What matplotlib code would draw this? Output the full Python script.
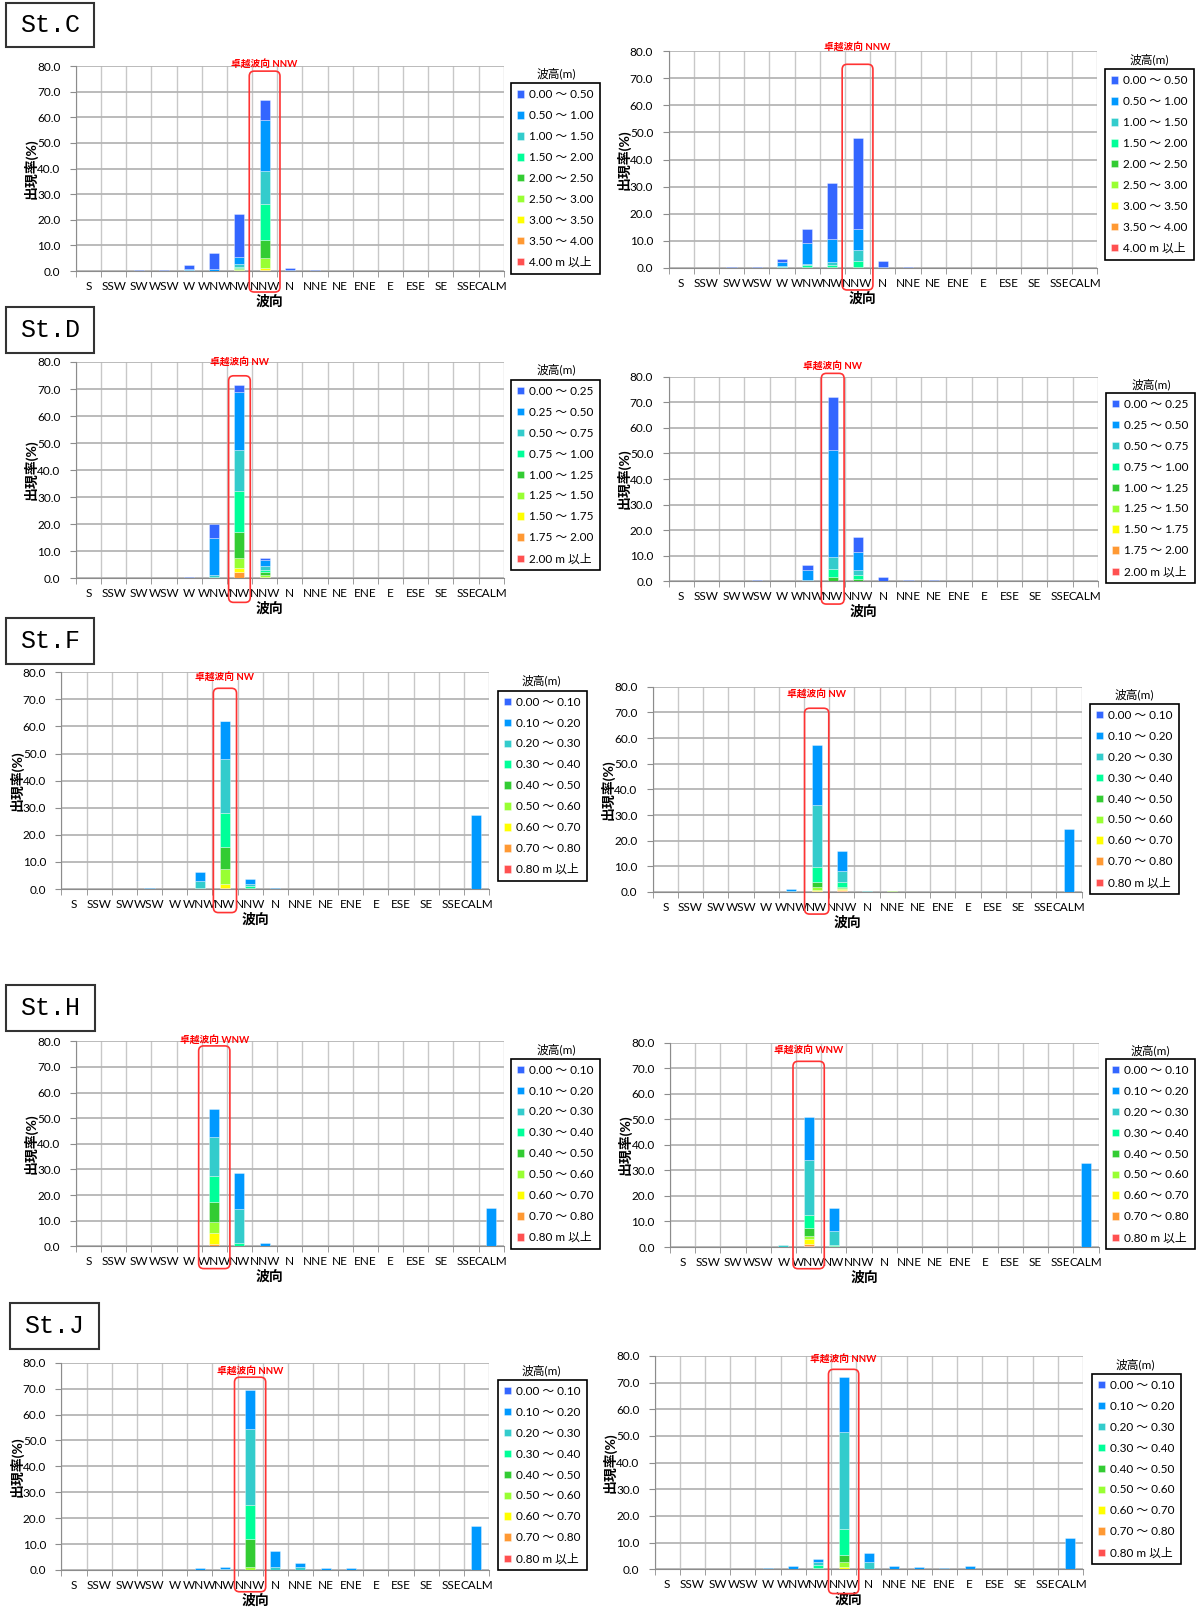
import matplotlib.pyplot as plt
import numpy as np
from matplotlib.patches import FancyBboxPatch, Rectangle
from matplotlib.transforms import IdentityTransform
from matplotlib.ticker import FormatStrFormatter

plt.rcParams['font.family'] = ['Lato', 'Noto Sans CJK JP', 'DejaVu Sans']

directions = ['S', 'SSW', 'SW', 'WSW', 'W', 'WNW', 'NW', 'NNW', 'N',
              'NNE', 'NE', 'ENE', 'E', 'ESE', 'SE', 'SSE', 'CALM']
class_colors = ['#3366ff', '#0099ff', '#33cccc', '#00ff99', '#33cc33',
                '#99ff33', '#ffff00', '#ff9933', '#ff5050']

bounds_c = ['0.00', '0.50', '1.00', '1.50', '2.00', '2.50', '3.00', '3.50', '4.00']
bounds_d = ['0.00', '0.25', '0.50', '0.75', '1.00', '1.25', '1.50', '1.75', '2.00']
bounds_fhj = ['0.00', '0.10', '0.20', '0.30', '0.40', '0.50', '0.60', '0.70', '0.80']

# rows = wave height class, columns = direction (S ... CALM), values in %
#          S  SSW  SW  WSW   W   WNW   NW   NNW    N  NNE  NE ENE  E ESE SE SSE CALM
c_left = [
    [0, 0, 0.3, 0.4, 1.8, 6.2, 16.6, 7.8, 0.8, 0.2, 0, 0, 0, 0, 0, 0, 0],
    [0, 0, 0, 0, 0.5, 0.7, 2.7, 20.0, 0.4, 0, 0, 0, 0, 0, 0, 0, 0],
    [0, 0, 0, 0, 0.2, 0.1, 1.3, 12.8, 0, 0, 0, 0, 0, 0, 0, 0, 0],
    [0, 0, 0, 0, 0, 0, 0.5, 14.0, 0, 0, 0, 0, 0, 0, 0, 0, 0],
    [0, 0, 0, 0, 0, 0, 0.4, 7.0, 0, 0, 0, 0, 0, 0, 0, 0, 0],
    [0, 0, 0, 0, 0, 0, 0.3, 4.0, 0, 0, 0, 0, 0, 0, 0, 0, 0],
    [0, 0, 0, 0, 0, 0, 0.3, 0.9, 0, 0, 0, 0, 0, 0, 0, 0, 0],
    [0, 0, 0, 0, 0, 0, 0.1, 0.2, 0, 0, 0, 0, 0, 0, 0, 0, 0],
    [0, 0, 0, 0, 0, 0, 0, 0.1, 0, 0, 0, 0, 0, 0, 0, 0, 0],
]
c_right = [
    [0, 0, 0.3, 0.3, 1.2, 5.2, 20.6, 33.4, 2.2, 0.3, 0, 0, 0, 0, 0, 0, 0],
    [0, 0, 0, 0, 1.6, 7.6, 8.5, 7.8, 0.5, 0, 0, 0, 0, 0, 0, 0, 0],
    [0, 0, 0, 0, 0.4, 0.6, 1.3, 4.0, 0, 0, 0, 0, 0, 0, 0, 0, 0],
    [0, 0, 0, 0, 0.2, 0.6, 0.7, 2.2, 0, 0, 0, 0, 0, 0, 0, 0, 0],
    [0, 0, 0, 0, 0, 0.3, 0.2, 0.4, 0, 0, 0, 0, 0, 0, 0, 0, 0],
    [0, 0, 0, 0, 0, 0.1, 0.1, 0.1, 0, 0, 0, 0, 0, 0, 0, 0, 0],
    [0] * 17,
    [0] * 17,
    [0] * 17,
]
d_left = [
    [0, 0, 0, 0, 0.5, 5.4, 2.8, 0.6, 0, 0, 0, 0, 0, 0, 0, 0, 0],
    [0, 0, 0, 0, 0.1, 13.6, 21.5, 2.3, 0, 0, 0, 0, 0, 0, 0, 0, 0],
    [0, 0, 0, 0, 0, 0.8, 15.0, 1.5, 0, 0, 0, 0, 0, 0, 0, 0, 0],
    [0, 0, 0, 0, 0, 0.4, 15.2, 0.9, 0, 0, 0, 0, 0, 0, 0, 0, 0],
    [0, 0, 0, 0, 0, 0, 9.5, 1.0, 0, 0, 0, 0, 0, 0, 0, 0, 0],
    [0, 0, 0, 0, 0, 0, 3.7, 0.8, 0, 0, 0, 0, 0, 0, 0, 0, 0],
    [0, 0, 0, 0, 0, 0, 1.6, 0.2, 0, 0, 0, 0, 0, 0, 0, 0, 0],
    [0, 0, 0, 0, 0, 0, 2.2, 0.2, 0, 0, 0, 0, 0, 0, 0, 0, 0],
    [0, 0, 0, 0, 0, 0, 0.1, 0, 0, 0, 0, 0, 0, 0, 0, 0, 0],
]
d_right = [
    [0, 0, 0, 0.4, 0, 2.1, 20.6, 6.2, 1.5, 0.5, 0.4, 0, 0, 0, 0, 0, 0],
    [0, 0, 0, 0, 0, 3.7, 41.8, 6.9, 0.2, 0, 0, 0, 0, 0, 0, 0, 0],
    [0, 0, 0, 0, 0, 0.5, 4.8, 1.9, 0, 0, 0, 0, 0, 0, 0, 0, 0],
    [0, 0, 0, 0, 0, 0.2, 3.1, 1.7, 0, 0, 0, 0, 0, 0, 0, 0, 0],
    [0, 0, 0, 0, 0, 0, 1.4, 0.5, 0, 0, 0, 0, 0, 0, 0, 0, 0],
    [0, 0, 0, 0, 0, 0, 0.2, 0.2, 0, 0, 0, 0, 0, 0, 0, 0, 0],
    [0, 0, 0, 0, 0, 0, 0, 0.1, 0, 0, 0, 0, 0, 0, 0, 0, 0],
    [0] * 17,
    [0] * 17,
]
f_left = [
    [0, 0, 0, 0, 0, 0, 0.2, 0, 0, 0, 0, 0, 0, 0, 0, 0, 0],
    [0, 0, 0, 0.3, 0.1, 3.4, 14.0, 1.6, 0.3, 0, 0.1, 0, 0, 0, 0, 0, 27.2],
    [0, 0, 0, 0, 0, 2.6, 19.9, 1.0, 0.1, 0, 0, 0, 0, 0, 0, 0, 0],
    [0, 0, 0, 0, 0, 0.3, 12.6, 0.6, 0, 0, 0, 0, 0, 0, 0, 0, 0],
    [0, 0, 0, 0, 0, 0.1, 8.2, 0.3, 0, 0, 0, 0, 0, 0, 0, 0, 0],
    [0, 0, 0, 0, 0, 0, 5.3, 0.1, 0, 0, 0, 0, 0, 0, 0, 0, 0],
    [0, 0, 0, 0, 0, 0, 1.8, 0, 0, 0, 0, 0, 0, 0, 0, 0, 0],
    [0, 0, 0, 0, 0, 0, 0.2, 0, 0, 0, 0, 0, 0, 0, 0, 0, 0],
    [0] * 17,
]
f_right = [
    [0] * 17,
    [0, 0, 0, 0, 0.1, 1.0, 23.6, 7.6, 0, 0, 0.1, 0, 0, 0, 0, 0, 24.7],
    [0, 0, 0, 0, 0, 0.2, 24.2, 4.3, 0.4, 0, 0, 0, 0, 0, 0, 0, 0],
    [0, 0, 0, 0, 0, 0, 5.7, 1.8, 0, 0, 0, 0, 0, 0, 0, 0, 0],
    [0, 0, 0, 0, 0, 0, 2.0, 0.6, 0, 0, 0, 0, 0, 0, 0, 0, 0],
    [0, 0, 0, 0, 0, 0, 1.0, 0.5, 0, 0.3, 0, 0, 0, 0, 0, 0, 0],
    [0, 0, 0, 0, 0, 0, 0.6, 0.4, 0, 0, 0, 0, 0, 0, 0, 0, 0],
    [0, 0, 0, 0, 0, 0, 0.3, 0.4, 0, 0, 0, 0, 0, 0, 0, 0, 0],
    [0, 0, 0, 0, 0, 0, 0, 0.2, 0, 0, 0, 0, 0, 0, 0, 0, 0],
]
h_left = [
    [0] * 17,
    [0, 0, 0, 0.3, 0.3, 10.7, 14.1, 1.0, 0, 0.3, 0, 0, 0, 0, 0, 0, 15.0],
    [0, 0, 0, 0, 0, 15.4, 13.3, 0.2, 0, 0, 0, 0, 0, 0, 0, 0, 0],
    [0, 0, 0, 0, 0, 9.9, 1.3, 0, 0, 0, 0, 0, 0, 0, 0, 0, 0],
    [0, 0, 0, 0, 0, 7.8, 0, 0, 0, 0, 0, 0, 0, 0, 0, 0, 0],
    [0, 0, 0, 0, 0, 4.5, 0, 0, 0, 0, 0, 0, 0, 0, 0, 0, 0],
    [0, 0, 0, 0, 0, 4.2, 0, 0, 0, 0, 0, 0, 0, 0, 0, 0, 0],
    [0, 0, 0, 0, 0, 0.9, 0, 0, 0, 0, 0, 0, 0, 0, 0, 0, 0],
    [0] * 17,
]
h_right = [
    [0] * 17,
    [0, 0, 0, 0, 0, 16.9, 8.8, 0, 0, 0, 0, 0, 0, 0, 0, 0, 33.0],
    [0, 0, 0, 0, 0.6, 21.4, 5.7, 0, 0, 0, 0, 0, 0, 0, 0, 0, 0],
    [0, 0, 0, 0, 0, 5.3, 0.3, 0, 0, 0, 0, 0, 0, 0, 0, 0, 0],
    [0, 0, 0, 0, 0, 3.1, 0.3, 0, 0, 0, 0, 0, 0, 0, 0, 0, 0],
    [0, 0, 0, 0, 0, 1.3, 0, 0, 0, 0, 0, 0, 0, 0, 0, 0, 0],
    [0, 0, 0, 0, 0, 1.8, 0, 0, 0, 0, 0, 0, 0, 0, 0, 0, 0],
    [0, 0, 0, 0, 0, 0.8, 0, 0, 0, 0, 0, 0, 0, 0, 0, 0, 0],
    [0, 0, 0, 0, 0, 0.4, 0, 0, 0, 0, 0, 0, 0, 0, 0, 0, 0],
]
j_left = [
    [0] * 17,
    [0, 0, 0, 0, 0, 0.6, 0.9, 15.1, 6.1, 1.4, 0.6, 0.6, 0, 0, 0, 0, 16.8],
    [0, 0, 0, 0, 0, 0, 0.3, 29.3, 1.2, 1.3, 0, 0, 0, 0, 0, 0, 0],
    [0, 0, 0, 0, 0, 0, 0, 13.1, 0, 0, 0, 0, 0, 0, 0, 0, 0],
    [0, 0, 0, 0, 0, 0, 0, 10.8, 0, 0, 0, 0, 0, 0, 0, 0, 0],
    [0, 0, 0, 0, 0, 0, 0, 1.2, 0, 0, 0, 0, 0, 0, 0, 0, 0],
    [0] * 17,
    [0] * 17,
    [0] * 17,
]
j_right = [
    [0] * 17,
    [0, 0, 0, 0, 0.4, 1.3, 0.9, 20.9, 3.5, 1.3, 0.8, 0.5, 0.8, 0, 0, 0, 11.6],
    [0, 0, 0, 0, 0, 0, 1.3, 36.4, 2.7, 0, 0, 0, 0.3, 0, 0, 0, 0],
    [0, 0, 0, 0, 0, 0, 1.2, 9.6, 0, 0, 0, 0, 0, 0, 0, 0, 0],
    [0, 0, 0, 0, 0, 0, 0.4, 2.7, 0, 0, 0, 0, 0, 0, 0, 0, 0],
    [0, 0, 0, 0, 0, 0, 0, 1.7, 0, 0, 0, 0, 0, 0, 0, 0, 0],
    [0, 0, 0, 0, 0, 0, 0, 1.0, 0, 0, 0, 0, 0, 0, 0, 0, 0],
    [0] * 17,
    [0] * 17,
]

W, H = 1200, 1609
fig = plt.figure(figsize=(W / 100, H / 100), dpi=100)


def fig_rect(x0, y0, x1, y1):
    # pixel box (top-left origin) -> figure fraction [left, bottom, width, height]
    return [x0 / W, 1 - y1 / H, (x1 - x0) / W, (y1 - y0) / H]


def draw_panel(values, bounds, note, axes_px, legend_xy, title_px,
               dom, half, box_top, box_bot, note_y):
    ax = fig.add_axes(fig_rect(*axes_px))
    wpx = axes_px[2] - axes_px[0]
    hpx = axes_px[3] - axes_px[1]
    x = np.arange(len(directions))
    base = np.zeros(len(directions))
    handles = [None] * len(values)
    # highest wave class at the bottom, lowest class on top
    for k in reversed(range(len(values))):
        h = np.array(values[k], dtype=float)
        handles[k] = ax.bar(x, np.where(h > 0, h, np.nan), 0.4, bottom=base,
                            color=class_colors[k], edgecolor=(1, 1, 1, 0.6),
                            linewidth=0.4, zorder=3)
        base += h
    labels = [f'{a} ～ {b}' for a, b in zip(bounds[:-1], bounds[1:])]
    labels.append(f'{bounds[-1]} m 以上')

    ax.set_xlim(-0.5, len(directions) - 0.5)
    ax.set_ylim(0, 80)
    ax.set_yticks(np.arange(0, 81, 10))
    ax.yaxis.set_major_formatter(FormatStrFormatter('%.1f'))
    ax.set_xticks(x)
    ax.set_xticklabels(directions, fontsize=8.5)
    ax.set_xticks(np.arange(-0.5, len(directions)), minor=True)
    ax.tick_params(axis='x', which='major', length=0, pad=7)
    ax.tick_params(axis='x', which='minor', length=4, color='#8c8c8c')
    ax.tick_params(axis='y', length=4, color='#8c8c8c', labelsize=8.5, pad=7)
    ax.grid(axis='y', color='#b5b5b5', linewidth=1.3)
    ax.grid(axis='x', which='minor', color='#c8c8c8', linewidth=1.0)
    ax.set_axisbelow(True)
    for s in ('top', 'right'):
        ax.spines[s].set_visible(False)
    for s in ('left', 'bottom'):
        ax.spines[s].set_color('#8c8c8c')

    ax.set_ylabel('出現率(%)', fontsize=10, fontweight='bold')
    ax.yaxis.set_label_coords(-38 / wpx, 0.5)
    ax.set_xlabel('波向', fontsize=10, fontweight='bold')
    ax.xaxis.set_label_coords(0.5 - 20 / wpx, -23 / hpx)

    lx, ly = legend_xy
    leg = ax.legend(handles, labels, loc='upper left',
                    bbox_to_anchor=(lx / W, 1 - ly / H), bbox_transform=fig.transFigure,
                    borderaxespad=0, frameon=True, fancybox=False,
                    edgecolor='black', framealpha=1, fontsize=8.5,
                    handlelength=0.6, handleheight=0.6, handletextpad=0.45,
                    labelspacing=0.84, borderpad=0.5)
    leg.get_frame().set_linewidth(1.2)
    fig.text(title_px[0] / W, 1 - title_px[1] / H, '波高(m)', ha='center', va='center',
             fontsize=8.5)

    # red frame around the dominant direction
    (px0, py0), (px1, py1) = ax.transData.transform([(dom - half, box_bot),
                                                     (dom + half, box_top)])
    fig.add_artist(FancyBboxPatch((px0, py0), px1 - px0, py1 - py0,
                                  boxstyle='round,pad=0,rounding_size=5',
                                  transform=IdentityTransform(), fill=False,
                                  edgecolor='#ff3333', linewidth=1.2))
    ax.text(dom, note_y, note, color='red', fontsize=7, fontweight='bold',
            ha='center', va='center', clip_on=False)


def station_label(name, x0, y0, x1, y1):
    fig.add_artist(Rectangle((x0 / W, 1 - y1 / H), (x1 - x0) / W, (y1 - y0) / H,
                             transform=fig.transFigure, fill=False,
                             edgecolor='#333333', linewidth=1.5))
    fig.text((x0 + x1) / 2 / W, 1 - (y0 + y1) / 2 / H, name, ha='center', va='center',
             fontsize=18, family='Liberation Mono')


panels = [
    (c_left, bounds_c, '卓越波向 NNW', (75.8, 66, 503.8, 271), (511, 83.3),
     (556, 73.3), 7, 0.61, 78.0, -8.2, 80.8),
    (c_right, bounds_c, '卓越波向 NNW', (668.5, 51, 1097, 268), (1105, 69.3),
     (1149, 59.3), 7, 0.61, 75.1, -8.1, 81.6),
    (d_left, bounds_d, '卓越波向 NW', (75.8, 362, 503.8, 578.3), (511, 380),
     (556, 369.3), 6, 0.43, 74.9, -8.9, 80.1),
    (d_right, bounds_d, '卓越波向 NW', (668.5, 376.7, 1098, 581.3), (1106, 393),
     (1150.8, 384.3), 6, 0.45, 81.3, -8.9, 84.4),
    (f_left, bounds_fhj, '卓越波向 NW', (61.5, 672.3, 489, 889), (498, 690.7),
     (541.5, 680), 6, 0.46, 74.1, -8.7, 78.2),
    (f_right, bounds_fhj, '卓越波向 NW', (652.7, 686.7, 1081.5, 892), (1090, 704),
     (1134.6, 694.3), 6, 0.48, 71.6, -8.6, 77.2),
    (h_left, bounds_fhj, '卓越波向 WNW', (75.8, 1041.3, 503.8, 1246.3), (511, 1058.7),
     (556, 1049.3), 5, 0.62, 78.2, -8.7, 80.5),
    (h_right, bounds_fhj, '卓越波向 WNW', (670, 1042.7, 1098.5, 1247), (1106, 1059),
     (1150, 1050.7), 5, 0.62, 72.7, -8.5, 77.1),
    (j_left, bounds_fhj, '卓越波向 NNW', (61.5, 1362.7, 489, 1570), (498, 1380),
     (541.5, 1370.7), 7, 0.62, 74.4, -8.4, 76.9),
    (j_right, bounds_fhj, '卓越波向 NNW', (654.6, 1356, 1083, 1569.3), (1092, 1374),
     (1135.4, 1364.3), 7, 0.6, 75.0, -9.1, 79.1),
]
for p in panels:
    draw_panel(*p)

station_label('St.C', 6, 3, 94.4, 47.2)
station_label('St.D', 6, 307, 94.4, 352.5)
station_label('St.F', 6, 617.7, 94.4, 664)
station_label('St.H', 5.5, 984.7, 95, 1030.7)
station_label('St.J', 10, 1303.3, 98.8, 1349.3)

fig.savefig('out.png', dpi=100)
